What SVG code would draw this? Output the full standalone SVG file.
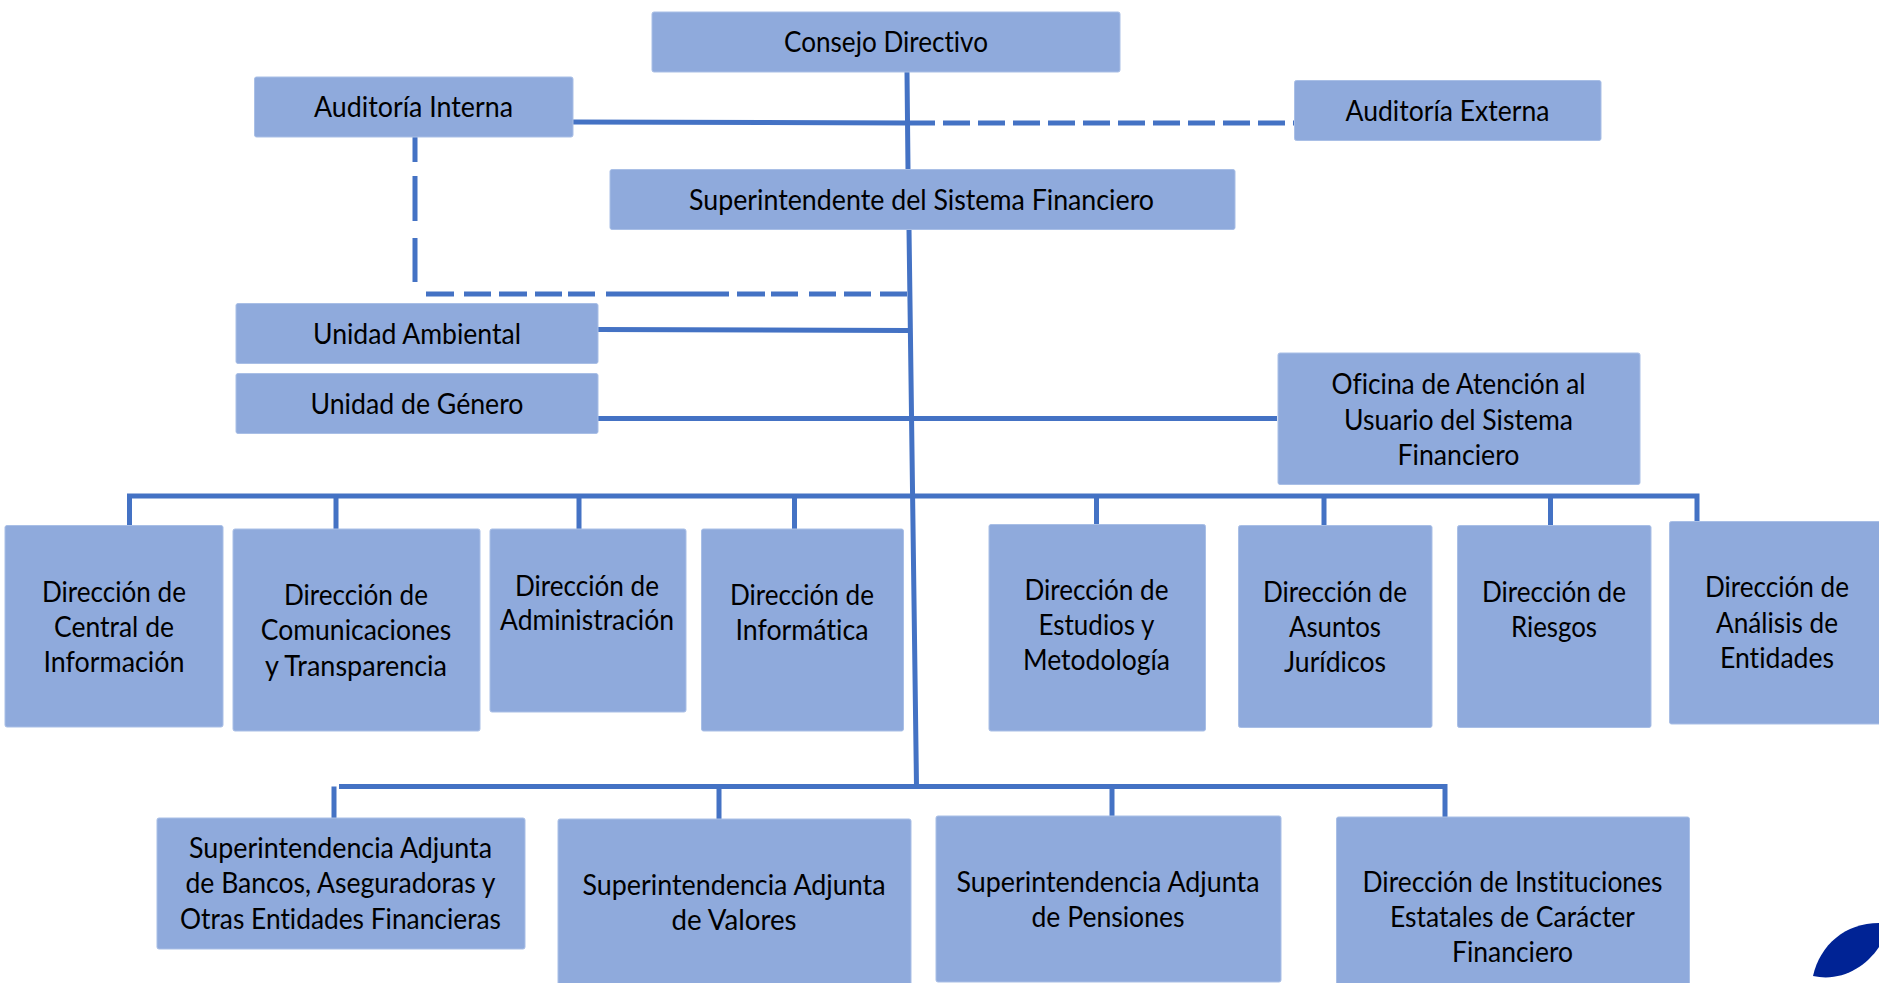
<svg xmlns="http://www.w3.org/2000/svg" width="1879" height="983" viewBox="0 0 1879 983">
<style>
rect{fill:#8faadc;stroke:#a9bfe6;stroke-width:1}
text{font-family:"Lato","Open Sans","Liberation Sans",sans-serif;font-size:28px;fill:#000;text-anchor:middle;font-variant-ligatures:none;transform:translateY(1px)}
.c{fill:none;stroke:#4472c4;stroke-width:5}
</style>
<rect width="1879" height="983" style="fill:#fff;stroke:none"/>
<g id="connectors">
<path class="c" d="M907 72L908 169M573 122L908 123M909 229L916.500 786M598 329.500L908 330.500M598 418.500H1277"/>
<path class="c" d="M908 123H1294" stroke-dasharray="27 8"/>
<path class="c" d="M415 137V162M415 176V221M415 238V282"/>
<path class="c" d="M426 294H454M464 294H491M499 294H527M535 294H562M568 294H595M606 294H729M737 294H765M771 294H798M809 294H836M844 294H871M880 294H907"/>
<path class="c" d="M129.500 525V496H1697V521M336 496V529M579 496V529M794.500 496V529M1096.500 496V524M1324 496V525M1550.500 496V525"/>
<path class="c" d="M339 786.500H1445V817M334 786.500V818M719 786.500V819M1112 786.500V816"/>
</g>
<g id="consejo"><rect x="652" y="12" width="468" height="60" rx="2"/><text x="886" y="51" textLength="204" lengthAdjust="spacingAndGlyphs">Consejo Directivo</text></g>
<g id="auditoria-interna"><rect x="254.500" y="77" width="318.500" height="60" rx="2"/><text x="413.500" y="116" textLength="199" lengthAdjust="spacingAndGlyphs">Auditoría Interna</text></g>
<g id="auditoria-externa"><rect x="1294.500" y="80.500" width="306.500" height="60" rx="2"/><text x="1447.500" y="120" textLength="204" lengthAdjust="spacingAndGlyphs">Auditoría Externa</text></g>
<g id="superintendente"><rect x="610" y="169.500" width="625" height="60" rx="2"/><text x="921.500" y="209" textLength="465" lengthAdjust="spacingAndGlyphs">Superintendente del Sistema Financiero</text></g>
<g id="unidad-ambiental"><rect x="236" y="303.500" width="362" height="60" rx="2"/><text x="417" y="343" textLength="208" lengthAdjust="spacingAndGlyphs">Unidad Ambiental</text></g>
<g id="unidad-genero"><rect x="236" y="373.500" width="362" height="60" rx="2"/><text x="417" y="413" textLength="213" lengthAdjust="spacingAndGlyphs">Unidad de Género</text></g>
<g id="oficina"><rect x="1278" y="353" width="362" height="131.500" rx="2"/>
<text x="1458.500" y="393" textLength="254" lengthAdjust="spacingAndGlyphs">Oficina de Atención al</text>
<text x="1458.500" y="428.500" textLength="229" lengthAdjust="spacingAndGlyphs">Usuario del Sistema</text>
<text x="1458.500" y="464" textLength="122" lengthAdjust="spacingAndGlyphs">Financiero</text></g>
<g id="dir-central"><rect x="5" y="525.500" width="218" height="201.500" rx="2"/>
<text x="114" y="601" textLength="144" lengthAdjust="spacingAndGlyphs">Dirección de</text>
<text x="114" y="636" textLength="120" lengthAdjust="spacingAndGlyphs">Central de</text>
<text x="114" y="671" textLength="141" lengthAdjust="spacingAndGlyphs">Información</text></g>
<g id="dir-comunicaciones"><rect x="233" y="529" width="247" height="202" rx="2"/>
<text x="356" y="604" textLength="144" lengthAdjust="spacingAndGlyphs">Dirección de</text>
<text x="356" y="639" textLength="190.500" lengthAdjust="spacingAndGlyphs">Comunicaciones</text>
<text x="356" y="675" textLength="182" lengthAdjust="spacingAndGlyphs">y Transparencia</text></g>
<g id="dir-administracion"><rect x="490" y="529" width="196" height="183" rx="2"/>
<text x="587" y="594.500" textLength="144" lengthAdjust="spacingAndGlyphs">Dirección de</text>
<text x="587" y="629" textLength="174" lengthAdjust="spacingAndGlyphs">Administración</text></g>
<g id="dir-informatica"><rect x="701.500" y="529" width="202" height="202" rx="2"/>
<text x="802" y="604" textLength="144" lengthAdjust="spacingAndGlyphs">Dirección de</text>
<text x="802" y="639" textLength="133" lengthAdjust="spacingAndGlyphs">Informática</text></g>
<g id="dir-estudios"><rect x="989" y="524.500" width="216.500" height="206.500" rx="2"/>
<text x="1096.500" y="599" textLength="144" lengthAdjust="spacingAndGlyphs">Dirección de</text>
<text x="1096.500" y="634" textLength="116" lengthAdjust="spacingAndGlyphs">Estudios y</text>
<text x="1096.500" y="669" textLength="147" lengthAdjust="spacingAndGlyphs">Metodología</text></g>
<g id="dir-asuntos"><rect x="1238.500" y="525.500" width="193.500" height="202" rx="2"/>
<text x="1335" y="600.500" textLength="144" lengthAdjust="spacingAndGlyphs">Dirección de</text>
<text x="1335" y="635.500" textLength="92" lengthAdjust="spacingAndGlyphs">Asuntos</text>
<text x="1335" y="671" textLength="102" lengthAdjust="spacingAndGlyphs">Jurídicos</text></g>
<g id="dir-riesgos"><rect x="1457.500" y="525.500" width="193.500" height="202" rx="2"/>
<text x="1554" y="600.500" textLength="144" lengthAdjust="spacingAndGlyphs">Dirección de</text>
<text x="1554" y="635.500" textLength="86" lengthAdjust="spacingAndGlyphs">Riesgos</text></g>
<g id="dir-analisis"><rect x="1669.500" y="521.500" width="215" height="202.500" rx="2"/>
<text x="1777" y="596" textLength="144" lengthAdjust="spacingAndGlyphs">Dirección de</text>
<text x="1777" y="631.500" textLength="122" lengthAdjust="spacingAndGlyphs">Análisis de</text>
<text x="1777" y="666.500" textLength="114" lengthAdjust="spacingAndGlyphs">Entidades</text></g>
<g id="adj-bancos"><rect x="157" y="818" width="368" height="131" rx="2"/>
<text x="340.500" y="857" textLength="303" lengthAdjust="spacingAndGlyphs">Superintendencia Adjunta</text>
<text x="340.500" y="892" textLength="310" lengthAdjust="spacingAndGlyphs">de Bancos, Aseguradoras y</text>
<text x="340.500" y="928" textLength="321" lengthAdjust="spacingAndGlyphs">Otras Entidades Financieras</text></g>
<g id="adj-valores"><rect x="558" y="819" width="353" height="170" rx="2"/>
<text x="734" y="894" textLength="303" lengthAdjust="spacingAndGlyphs">Superintendencia Adjunta</text>
<text x="734" y="929" textLength="125" lengthAdjust="spacingAndGlyphs">de Valores</text></g>
<g id="adj-pensiones"><rect x="936" y="816" width="345" height="166" rx="2"/>
<text x="1108" y="890.500" textLength="303" lengthAdjust="spacingAndGlyphs">Superintendencia Adjunta</text>
<text x="1108" y="925.500" textLength="153" lengthAdjust="spacingAndGlyphs">de Pensiones</text></g>
<g id="dir-instituciones"><rect x="1336.500" y="817" width="353" height="172" rx="2"/>
<text x="1512.500" y="890.500" textLength="300" lengthAdjust="spacingAndGlyphs">Dirección de Instituciones</text>
<text x="1512.500" y="926" textLength="245" lengthAdjust="spacingAndGlyphs">Estatales de Carácter</text>
<text x="1512.500" y="961" textLength="121" lengthAdjust="spacingAndGlyphs">Financiero</text></g>
<path d="M1813 976C1820 945 1845 923 1879 923V947C1865 968 1840 982 1813 976Z" fill="#002395"/>
</svg>
